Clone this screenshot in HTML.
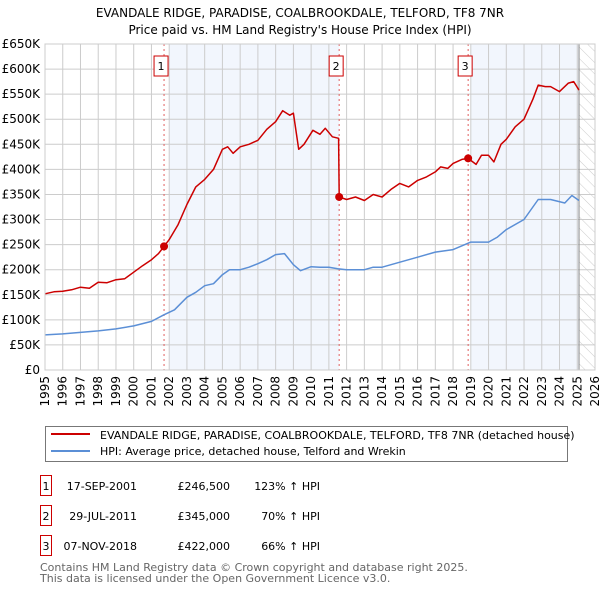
<!DOCTYPE html>
<html><head><meta charset="utf-8"><style>
body{margin:0;background:#fff;font-family:"DejaVu Sans","Liberation Sans",sans-serif;}
svg text{font-family:"DejaVu Sans","Liberation Sans",sans-serif;}
</style></head><body>
<svg id="c" width="600" height="590" xmlns="http://www.w3.org/2000/svg"></svg>
<script>
const yearTicks=[1995,1996,1997,1998,1999,2000,2001,2002,2003,2004,2005,2006,2007,2008,2009,2010,2011,2012,2013,2014,2015,2016,2017,2018,2019,2020,2021,2022,2023,2024,2025,2026];
const priceTicks=[0,50,100,150,200,250,300,350,400,450,500,550,600,650];
const priceLabels=["£0","£50K","£100K","£150K","£200K","£250K","£300K","£350K","£400K","£450K","£500K","£550K","£600K","£650K"];
const redX=[1995,1995.5,1996,1996.5,1997,1997.5,1998,1998.5,1999,1999.5,2000,2000.5,2001,2001.4,2001.71,2002,2002.5,2003,2003.5,2004,2004.5,2005,2005.3,2005.6,2006,2006.5,2007,2007.5,2008,2008.4,2008.8,2009,2009.3,2009.6,2010.1,2010.5,2010.8,2011.2,2011.55,2011.58,2012,2012.5,2013,2013.5,2014,2014.5,2015,2015.5,2016,2016.5,2017,2017.3,2017.7,2018,2018.5,2018.85,2019.3,2019.6,2020,2020.3,2020.7,2021,2021.5,2022,2022.5,2022.8,2023.2,2023.5,2024,2024.5,2024.8,2025.1];
const redY=[152,156,157,160,165,163,175,174,180,182,195,208,220,232,246.5,260,290,330,365,380,400,440,445,432,445,450,458,480,495,517,508,512,440,450,478,470,482,465,462,345,340,345,338,350,345,360,372,365,378,385,395,405,402,412,420,422,410,428,428,415,450,460,485,500,540,568,565,565,555,572,575,558];
const blueX=[1995,1996,1997,1998,1999,2000,2001,2001.7,2002.3,2003,2003.5,2004,2004.5,2005,2005.4,2006,2006.5,2007,2007.5,2008,2008.5,2009,2009.4,2010,2010.5,2011,2011.5,2012,2013,2013.5,2014,2015,2016,2017,2018,2019,2020,2020.5,2021,2022,2022.8,2023.5,2024.3,2024.7,2025.1];
const blueY=[70,72,75,78,82,88,97,110,120,145,155,168,172,190,200,200,205,212,220,230,232,210,198,206,205,205,202,200,200,205,205,215,225,235,240,255,255,265,280,300,340,340,333,348,338];
const saleX=[2001.71,2011.58,2018.85];
const saleY=[246.5,345,422];
const saleLabels=["1","2","3"];
const L=45,R=595,T=44,B=370;
const sx=y=>L+(y-1995)*(R-L)/31;
const sy=v=>B-v*(B-T)/650;
const svg=document.getElementById('c');
function el(t,a,p){const e=document.createElementNS('http://www.w3.org/2000/svg',t);for(const k in a)e.setAttribute(k,a[k]);(p||svg).appendChild(e);return e;}
function tx(x,y,s,a){const e=el('text',Object.assign({x:x,y:y,'font-size':12,fill:'#000'},a||{}));e.textContent=s;return e;}
// title
let t=tx(300,17,"EVANDALE RIDGE, PARADISE, COALBROOKDALE, TELFORD, TF8 7NR",{'text-anchor':'middle'});

t=tx(300,34,"Price paid vs. HM Land Registry's House Price Index (HPI)",{'text-anchor':'middle'});

// shading
let s=el('rect',{x:sx(2002),y:T,width:sx(saleX[1])-sx(2002),height:B-T,fill:'#f2f6fd'});

s=el('rect',{x:sx(2019),y:T,width:sx(2025.1)-sx(2019),height:B-T,fill:'#f2f6fd'});

// hatch
const defs=el('defs',{});
const pat=el('pattern',{id:'h',width:8,height:8,patternUnits:'userSpaceOnUse',patternTransform:'rotate(-45)'},defs);
el('line',{x1:0,y1:0,x2:0,y2:8,stroke:'#ccc','stroke-width':1},pat);
s=el('rect',{x:sx(2025.1),y:T,width:R-sx(2025.1),height:B-T,fill:'url(#h)'});

// grid
const g=el('g',{});
yearTicks.forEach(y=>{el('line',{x1:sx(y),x2:sx(y),y1:T,y2:B,stroke:'#ccc','stroke-width':1},g);});
priceTicks.forEach(v=>{el('line',{x1:L,x2:R,y1:sy(v),y2:sy(v),stroke:'#ccc','stroke-width':1},g);});
const ya=el('g',{});
priceTicks.forEach((v,i)=>{const e=tx(40,sy(v)+4,priceLabels[i],{'text-anchor':'end'});ya.appendChild(e);});
const xa=el('g',{});
yearTicks.forEach(y=>{const e=tx(0,0,String(y),{transform:`translate(${sx(y)+4},${B+6}) rotate(-90)`,'text-anchor':'end'});xa.appendChild(e);});
el('line',{x1:sx(2025.1),x2:sx(2025.1),y1:T,y2:B,stroke:'#888','stroke-width':1});
// sale vlines
saleX.forEach((x,i)=>{
  const l=el('line',{x1:sx(x),x2:sx(x),y1:T,y2:B,stroke:'#e06060','stroke-width':1,'stroke-dasharray':'2,3'});
  
  const r=el('rect',{x:sx(x)-10,y:56,width:14,height:20,fill:'#fff',stroke:'#c00'});
  
  tx(sx(x)-3,70,saleLabels[i],{'text-anchor':'middle','font-size':11});
});
function path(xs,ys,c,n){const d=xs.map((x,i)=>(i?'L':'M')+sx(x).toFixed(1)+','+sy(ys[i]).toFixed(1)).join('');
  const p=el('path',{d:d,fill:'none',stroke:c,'stroke-width':1.5,'stroke-linejoin':'round'});
  }
path(blueX,blueY,'#5b8fd6','hpi-line');
path(redX,redY,'#cc0000','price-paid-line');
saleX.forEach((x,i)=>{const c=el('circle',{cx:sx(x),cy:sy(saleY[i]),r:4,fill:'#cc0000'});
  });
el('rect',{x:L,y:T,width:R-L,height:B-T,fill:'none',stroke:'#ccc'});
// legend
const lg=el('g',{});
el('rect',{x:45.5,y:426.5,width:522,height:35,fill:'#fff',stroke:'#777'},lg);
el('line',{x1:51,x2:90,y1:434,y2:434,stroke:'#cc0000','stroke-width':2},lg);
el('line',{x1:51,x2:90,y1:451,y2:451,stroke:'#5b8fd6','stroke-width':2},lg);
lg.appendChild(tx(100,439,"EVANDALE RIDGE, PARADISE, COALBROOKDALE, TELFORD, TF8 7NR (detached house)",{'font-size':11}));
lg.appendChild(tx(100,455,"HPI: Average price, detached house, Telford and Wrekin",{'font-size':11}));
// table
const rows=[["17-SEP-2001","£246,500","123% ↑ HPI"],["29-JUL-2011","£345,000","70% ↑ HPI"],["07-NOV-2018","£422,000","66% ↑ HPI"]];
rows.forEach((r,i)=>{const y=487+i*30;
  const gr=el('g',{});
  el('rect',{x:40.5,y:y-11.5,width:11,height:20,fill:'#fff',stroke:'#c00'},gr);
  gr.appendChild(tx(46,y+3,String(i+1),{'text-anchor':'middle','font-size':11}));
  gr.appendChild(tx(137,y+3,r[0],{'text-anchor':'end','font-size':11}));
  gr.appendChild(tx(230,y+3,r[1],{'text-anchor':'end','font-size':11}));
  gr.appendChild(tx(320,y+3,r[2],{'text-anchor':'end','font-size':11}));
});
t=tx(40,571,"Contains HM Land Registry data © Crown copyright and database right 2025.",{'font-size':11,fill:'#666'});

t=tx(40,582,"This data is licensed under the Open Government Licence v3.0.",{'font-size':11,fill:'#666'});

</script>
</body></html>
